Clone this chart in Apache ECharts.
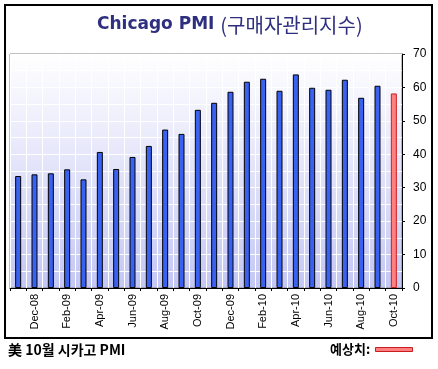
<!DOCTYPE html>
<html>
<head>
<meta charset="utf-8">
<script src="https://cdn.jsdelivr.net/npm/echarts@6/dist/echarts.min.js"></script>
<style>
html,body{margin:0;padding:0;background:#fff;}
#c{width:438px;height:369px;}
</style>
</head>
<body>
<div id="c"></div>
<script>
var categories = ['Nov-08','Dec-08','Jan-09','Feb-09','Mar-09','Apr-09','May-09','Jun-09','Jul-09','Aug-09','Sep-09','Oct-09',
                  'Nov-09','Dec-09','Jan-10','Feb-10','Mar-10','Apr-10','May-10','Jun-10','Jul-10','Aug-10','Sep-10','Oct-10'];
var actualValues = [33.5,34.0,34.3,35.5,32.5,40.7,35.6,39.2,42.5,47.4,46.1,53.3,
                    55.4,58.7,61.7,62.6,59.0,63.9,59.9,59.3,62.3,56.9,60.5,null];
var forecastValues = [null,null,null,null,null,null,null,null,null,null,null,null,
                      null,null,null,null,null,null,null,null,null,null,null,58.2];
var yTicks = [0,10,20,30,40,50,60,70];

var titleMain = 'Chicago PMI ';
var titleSub = '(구매자관리지수)';
var footerLeft = '美 10월 시카고 PMI';
var legendLabel = '예상치:';

var chart = echarts.init(document.getElementById('c'), null, {renderer:'canvas'});
var latin = 'DejaVu Sans, "Noto Sans CJK KR", sans-serif';
var kr = '"Noto Sans CJK KR", "DejaVu Sans", sans-serif';
chart.setOption({
  animation:false,
  backgroundColor:'#ffffff',
  grid:{left:10,right:36,top:54,bottom:81,show:true,borderColor:'#808080',borderWidth:1,
    backgroundColor:{type:'linear',x:0,y:0,x2:0,y2:1,colorStops:[{offset:0,color:'#ffffff'},{offset:1,color:'#c4c7f4'}]}},
  xAxis:{type:'category',data:categories,boundaryGap:true,
    axisLine:{show:true,lineStyle:{color:'#000',width:1}},
    axisTick:{show:true,alignWithLabel:false,interval:0,length:3,lineStyle:{color:'#000'}},
    splitLine:{show:true,interval:0,lineStyle:{color:'#ffffff',width:1}},
    axisLabel:{rotate:90,interval:function(i){return i%2===1;},fontSize:11,color:'#000',margin:6,fontFamily:'"Liberation Sans", Arial, sans-serif'}},
  yAxis:{type:'value',position:'right',min:yTicks[0],max:yTicks[yTicks.length-1],interval:10,
    axisLine:{show:true,lineStyle:{color:'#000',width:1}},
    axisTick:{show:true,length:3,lineStyle:{color:'#000'}},
    splitLine:{show:true,lineStyle:{color:'#ffffff',width:1}},
    minorTick:{show:false,splitNumber:2},
    minorSplitLine:{show:true,lineStyle:{color:'#ffffff',width:1}},
    axisLabel:{fontSize:12,color:'#000',margin:11,fontFamily:'"Liberation Sans", Arial, sans-serif'}},
  series:[
    {type:'bar',data:actualValues,barWidth:6,itemStyle:{color:'#3a62f2',borderColor:'#000',borderWidth:1}},
    {type:'bar',data:forecastValues,barWidth:6,barGap:'-100%',itemStyle:{color:'#ff8080',borderColor:'#c81e1e',borderWidth:1}}
  ],
  graphic:[
    {type:'rect',shape:{x:5,y:5,width:427,height:333},style:{fill:'none',stroke:'#000',lineWidth:2},z:100},
    {type:'text',left:97,top:15,style:{text:'{a|'+titleMain+'}{b|'+titleSub+'}',
      rich:{a:{fontFamily:latin,fontWeight:'bold',fontSize:17,fill:'#2f2f80'},
            b:{fontFamily:kr,fontWeight:'normal',fontSize:20,fill:'#2f2f80'}}}},
    {type:'text',left:8,top:343,style:{text:footerLeft,fontFamily:kr,fontWeight:'bold',fontSize:14,fill:'#000'}},
    {type:'text',left:330,top:343,style:{text:legendLabel,fontFamily:kr,fontWeight:'bold',fontSize:13,fill:'#000'}},
    {type:'rect',shape:{x:375.5,y:347.5,width:37,height:4},style:{fill:'#ff8080',stroke:'#c81e1e',lineWidth:1}}
  ]
});
</script>
</body>
</html>
